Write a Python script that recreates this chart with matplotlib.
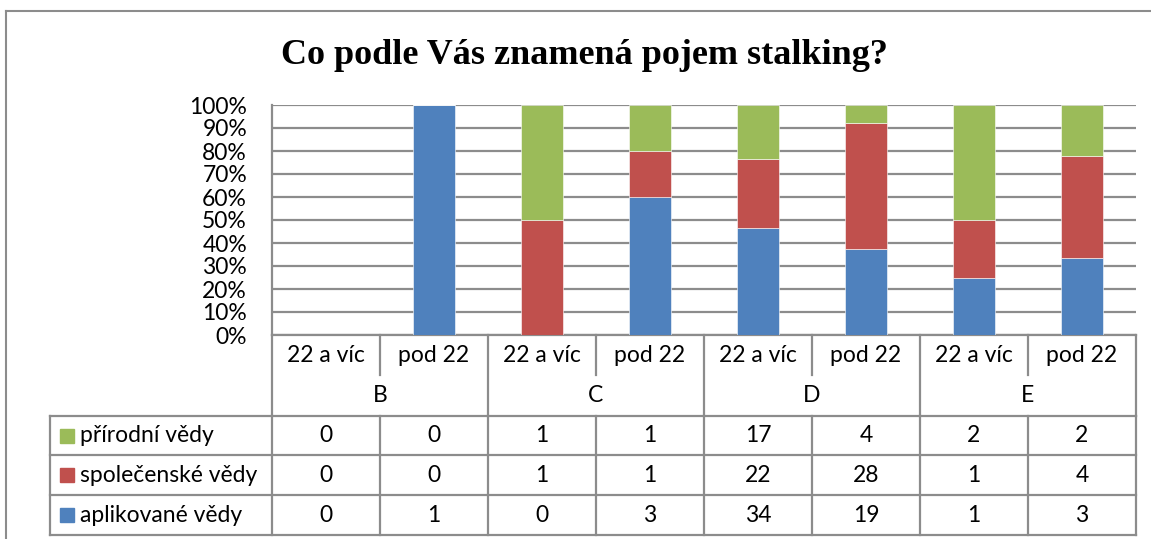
import matplotlib
matplotlib.use("Agg")
import matplotlib.pyplot as plt
import numpy as np

# data from the chart
groups = ["B", "C", "D", "E"]
subgroups = ["22 a víc", "pod 22"]
series_names = ["přírodní vědy", "společenské vědy", "aplikované vědy"]
prirodni = [0, 0, 1, 1, 17, 4, 2, 2]
spolecenske = [0, 0, 1, 1, 22, 28, 1, 4]
aplikovane = [0, 1, 0, 3, 34, 19, 1, 3]
yticks = [0, 10, 20, 30, 40, 50, 60, 70, 80, 90, 100]

col_green = "#9BBB59"
col_red = "#C0504D"
col_blue = "#4F81BD"
grid_col = "#8C8C8C"
txt_font = "Lato"
fs = 16.5

W, H = 1151, 539
fig = plt.figure(figsize=(W / 100, H / 100), dpi=100)

# overlay in pixel coordinates for border, title and data table
bg = fig.add_axes([0, 0, 1, 1])
bg.set_xlim(0, W)
bg.set_ylim(H, 0)
bg.axis("off")

# plot area
px0, px1, py0, py1 = 272, 1136, 105, 335
ax = fig.add_axes([px0 / W, (H - py1) / H, (px1 - px0) / W, (py1 - py0) / H])

apl = np.array(aplikovane, float)
spo = np.array(spolecenske, float)
pri = np.array(prirodni, float)
tot = apl + spo + pri
tot[tot == 0] = 1
apl_p = apl / tot * 100
spo_p = spo / tot * 100
pri_p = pri / tot * 100

x = np.arange(len(apl)) + 0.5
bw = 0.39
ax.bar(x, apl_p, bw, color=col_blue, edgecolor="white", linewidth=0.4, zorder=3)
ax.bar(x, spo_p, bw, bottom=apl_p, color=col_red, edgecolor="white", linewidth=0.4, zorder=3)
ax.bar(x, pri_p, bw, bottom=apl_p + spo_p, color=col_green, edgecolor="white", linewidth=0.4, zorder=3)

ax.set_xlim(0, len(apl))
ax.set_ylim(0, 100)
ax.set_yticks(yticks)
ax.set_yticklabels([str(v) + "%" for v in yticks], fontsize=fs, family=txt_font)
ax.tick_params(axis="y", length=0, pad=18)
ax.set_xticks([])
ax.yaxis.grid(True, color=grid_col, linewidth=1.6, zorder=0)
for s in ["top", "right", "bottom"]:
    ax.spines[s].set_visible(False)
ax.spines["left"].set_color(grid_col)
ax.spines["left"].set_linewidth(1.6)
ax.set_facecolor("none")

# outer chart border
bg.plot([6, W], [11, 11], color="#8C8C8C", lw=1.5)
bg.plot([6, 6], [11, H], color="#8C8C8C", lw=1.5)

bg.text(584, 56, "Co podle Vás znamená pojem stalking?", ha="center", va="center",
        fontsize=26, fontweight="bold", family="Liberation Serif")

# category axis as table
cw = (px1 - px0) / len(apl)
r1, r2 = 375, 416
lw = 1.6
bg.plot([px0, px1], [py1, py1], color=grid_col, lw=lw)
for i in range(len(apl) + 1):
    xx = px0 + i * cw
    if i % 2 == 0:
        bg.plot([xx, xx], [py1, r2], color=grid_col, lw=lw)
    else:
        bg.plot([xx, xx], [py1, r1], color=grid_col, lw=lw)
for i in range(len(apl)):
    bg.text(px0 + (i + 0.5) * cw, 356, subgroups[i % 2], ha="center", va="center",
            fontsize=fs, family=txt_font)
for g, name in enumerate(groups):
    bg.text(px0 + (2 * g + 1) * cw, 396, name, ha="center", va="center",
            fontsize=fs, family=txt_font)

# data table
tx0 = 50
rows = [r2, 455, 495, 535]
for yy in rows:
    bg.plot([tx0, px1], [yy, yy], color=grid_col, lw=lw)
bg.plot([tx0, tx0], [r2, rows[-1]], color=grid_col, lw=lw)
for i in range(len(apl) + 1):
    xx = px0 + i * cw
    bg.plot([xx, xx], [r2, rows[-1]], color=grid_col, lw=lw)

table_vals = [prirodni, spolecenske, aplikovane]
table_cols = [col_green, col_red, col_blue]
for r in range(3):
    yc = (rows[r] + rows[r + 1]) / 2
    bg.add_patch(plt.Rectangle((60, yc - 7), 14, 14, color=table_cols[r]))
    bg.text(80, yc, series_names[r], ha="left", va="center", fontsize=fs, family=txt_font)
    for i, v in enumerate(table_vals[r]):
        bg.text(px0 + (i + 0.5) * cw, yc, str(v), ha="center", va="center",
                fontsize=fs, family=txt_font)

fig.savefig("out.png", dpi=100)
